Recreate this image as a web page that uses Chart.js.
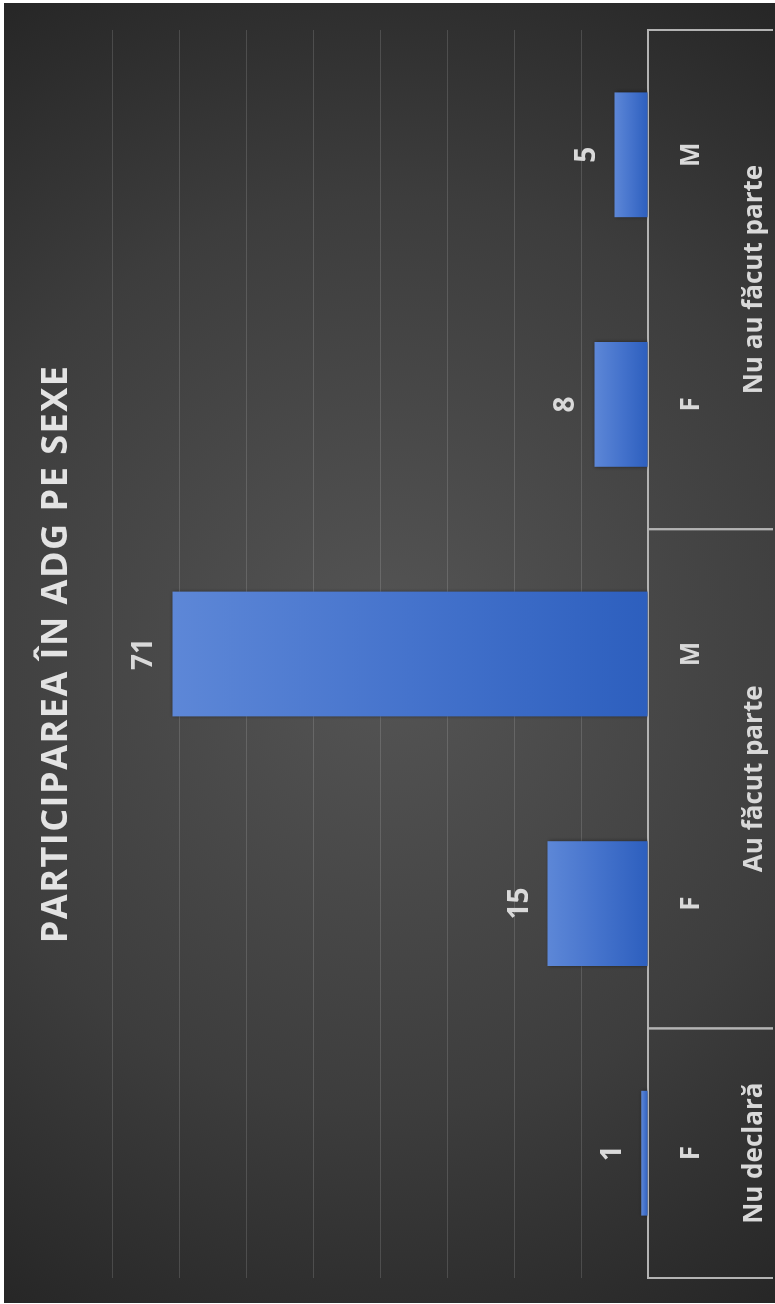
<!DOCTYPE html>
<html>
<head>
<meta charset="utf-8">
<script src="https://cdn.jsdelivr.net/npm/chart.js@4/dist/chart.umd.min.js"></script>
<style>
  html, body { margin: 0; padding: 0; background: #fff; }
  /* chart is laid out landscape and turned to read bottom-up */
  #turn {
    position: absolute; left: 0; top: 0;
    width: 1304px; height: 775px;
    transform-origin: 0 0;
    transform: translate(0, 1304px) rotate(-90deg);
    background: #fff;
  }
  #box { position: absolute; left: 1px; top: 4px; width: 1300px; height: 771px; }
</style>
</head>
<body>
<div id="turn"><div id="box"><canvas id="chart0"></canvas></div></div>
<script>
const groupNames = ['Nu declară', 'Au făcut parte', 'Nu au făcut parte'];
const groupSizes = [1, 2, 2];
const sexLabels = ['F', 'F', 'M', 'F', 'M'];
const participants = [1, 15, 71, 8, 5];
const yMax = 80;
const yStep = 10;

const FONT = '"Open Sans", "DejaVu Sans", sans-serif';
const TEXT = '#d9d9d9';
const LINE = '#b3b3b3';

// dark radial backdrop + spaced title text
const backdrop = {
  id: 'backdrop',
  beforeDraw(chart) {
    const {ctx, width, height} = chart;
    const g = ctx.createRadialGradient(width / 2, height / 2, 0, width / 2, height / 2, 760);
    g.addColorStop(0, '#555555');
    g.addColorStop(0.6, '#3d3d3d');
    g.addColorStop(1, '#262626');
    ctx.save();
    ctx.fillStyle = g;
    ctx.fillRect(0, 0, width, height);
    ctx.restore();
    ctx.letterSpacing = '1.5px';
  },
  beforeDatasetsDraw(chart) {
    const ctx = chart.ctx;
    ctx.letterSpacing = '0px';
    ctx.save();
    ctx.shadowColor = 'rgba(0,0,0,0.45)';
    ctx.shadowBlur = 4;
    ctx.shadowOffsetX = 0;
    ctx.shadowOffsetY = 1;
  },
  afterDatasetsDraw(chart) {
    chart.ctx.restore();
  }
};

// value above each bar
const barValues = {
  id: 'barValues',
  afterDatasetsDraw(chart) {
    const ctx = chart.ctx;
    const meta = chart.getDatasetMeta(0);
    ctx.save();
    ctx.font = 'bold 28px ' + FONT;
    ctx.fillStyle = TEXT;
    ctx.textAlign = 'center';
    ctx.textBaseline = 'alphabetic';
    meta.data.forEach((bar, i) => {
      ctx.fillText(String(participants[i]), bar.x, bar.y - 20);
    });
    ctx.restore();
  }
};

// second row of the category axis: group names with divider lines
const groupAxis = {
  id: 'groupAxis',
  afterDraw(chart) {
    const {ctx, chartArea} = chart;
    const x = chart.scales.x;
    const half = (x.getPixelForValue(1) - x.getPixelForValue(0)) / 2;
    const bottom = chart.height - 2;
    ctx.save();
    ctx.strokeStyle = LINE;
    ctx.lineWidth = 2;
    ctx.font = 'bold 26px ' + FONT;
    ctx.fillStyle = TEXT;
    ctx.textAlign = 'center';
    ctx.textBaseline = 'middle';
    let start = 0;
    groupNames.forEach((name, gi) => {
      const end = start + groupSizes[gi] - 1;
      const left = x.getPixelForValue(start) - half;
      const right = x.getPixelForValue(end) + half;
      [left, right].forEach(px => {
        ctx.beginPath();
        ctx.moveTo(px, chartArea.bottom);
        ctx.lineTo(px, bottom);
        ctx.stroke();
      });
      ctx.fillText(name, (left + right) / 2, 751);
      start = end + 1;
    });
    ctx.restore();
  }
};

function barFill(context) {
  const chart = context.chart;
  if (!chart.chartArea || context.raw == null) return '#4472c4';
  const y = chart.scales.y;
  const top = y.getPixelForValue(context.raw);
  const base = y.getPixelForValue(0);
  if (base - top < 1) return '#4472c4';
  const g = chart.ctx.createLinearGradient(0, top, 0, base);
  g.addColorStop(0, '#5d87d7');
  g.addColorStop(0.5, '#4573cc');
  g.addColorStop(1, '#2d5fbe');
  return g;
}

const chart0 = document.getElementById('chart0');
const myChart0 = new Chart(chart0, {
  type: 'bar',
  data: {
    labels: sexLabels,
    datasets: [{
      label: 'Participanți',
      data: participants,
      backgroundColor: barFill,
      borderWidth: 0,
      barPercentage: 0.5,
      categoryPercentage: 1.0
    }]
  },
  options: {
    responsive: true,
    maintainAspectRatio: false,
    animation: false,
    layout: { padding: { left: 25, right: 27, top: 0, bottom: 0 } },
    plugins: {
      legend: { display: false },
      tooltip: { enabled: false },
      title: {
        display: true,
        text: 'PARTICIPAREA ÎN ADG PE SEXE',
        color: '#e3e3e3',
        font: { family: FONT, size: 36, weight: 'bold' },
        padding: { top: 31, bottom: 34 }
      }
    },
    scales: {
      x: {
        grid: { display: false, drawTicks: false },
        border: { display: true, color: LINE, width: 2 },
        ticks: {
          color: TEXT,
          padding: 28,
          z: 1,
          font: { family: FONT, size: 26, weight: 'bold' }
        },
        afterFit(scale) { scale.height = 127; }
      },
      y: {
        min: 0,
        max: yMax,
        grid: { color: 'rgba(230,230,230,0.16)', lineWidth: 1, drawTicks: false },
        border: { display: false },
        ticks: { display: false, stepSize: yStep },
        afterFit(scale) { scale.width = 0; }
      }
    }
  },
  plugins: [backdrop, barValues, groupAxis]
});
</script>
</body>
</html>
